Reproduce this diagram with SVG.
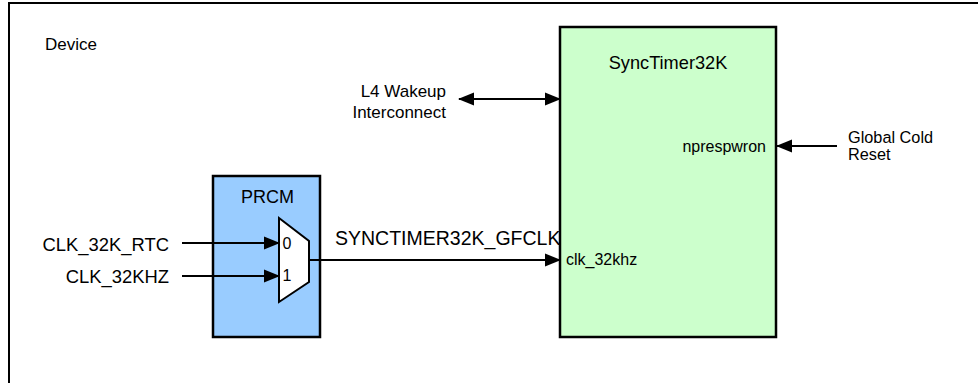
<svg xmlns="http://www.w3.org/2000/svg" width="978" height="383" viewBox="0 0 978 383">
<style>
text{font-family:"Liberation Sans",Arial,sans-serif;fill:#000}
.l{font-size:17px}
.s{font-size:16px}
.ln{stroke:#000;stroke-width:2;fill:none}
</style>
<defs>
<marker id="a" markerWidth="16" markerHeight="14" refX="15" refY="7" orient="auto-start-reverse" markerUnits="userSpaceOnUse">
<path d="M0,0.5 L16,7 L0,13.5 Z" fill="#000"/>
</marker>
</defs>
<g id="device">
<rect x="9" y="3" width="980" height="400" fill="#fff" stroke="#000" stroke-width="2"/>
<text class="l" x="45" y="50">Device</text>
</g>
<g id="synctimer">
<rect x="560" y="27" width="216" height="310" fill="#ccffcc" stroke="#000" stroke-width="2.5"/>
<text x="668" y="69" text-anchor="middle" font-size="18.2">SyncTimer32K</text>
<text class="s" x="766" y="152" text-anchor="end" font-size="16.5">nprespwron</text>
<text class="s" x="566" y="265" font-size="16.3">clk_32khz</text>
</g>
<g id="prcm">
<rect x="213" y="176" width="107" height="161" fill="#99ccff" stroke="#000" stroke-width="2.5"/>
<text x="267.5" y="203" text-anchor="middle" font-size="18">PRCM</text>
<polygon points="279,218 309,241 309,282 279,302" fill="#fff" stroke="#000" stroke-width="2"/>
<text class="s" x="282.5" y="249">0</text>
<text class="s" x="282.5" y="281">1</text>
</g>
<g id="l4">
<text class="l" x="446" y="97" text-anchor="end">L4 Wakeup</text>
<text class="l" x="446" y="118" text-anchor="end">Interconnect</text>
</g>
<g id="reset">
<text x="848" y="143" font-size="16.3">Global Cold</text>
<text x="848" y="160" font-size="16.3">Reset</text>
</g>
<g id="inputs">
<text x="169" y="250.5" text-anchor="end" font-size="18.4">CLK_32K_RTC</text>
<text x="169" y="282.5" text-anchor="end" font-size="18.4">CLK_32KHZ</text>
</g>
<g id="connectors">
<line class="ln" x1="182" y1="243" x2="279" y2="243" marker-end="url(#a)"/>
<line class="ln" x1="182" y1="276" x2="279" y2="276" marker-end="url(#a)"/>
<line class="ln" x1="309" y1="260" x2="560" y2="260" marker-end="url(#a)"/>
<line class="ln" x1="459" y1="99" x2="560" y2="99" marker-start="url(#a)" marker-end="url(#a)"/>
<line class="ln" x1="837" y1="146" x2="777" y2="146" marker-end="url(#a)"/>
<text x="335" y="245" font-size="19.5">SYNCTIMER32K_GFCLK</text>
</g>
</svg>
